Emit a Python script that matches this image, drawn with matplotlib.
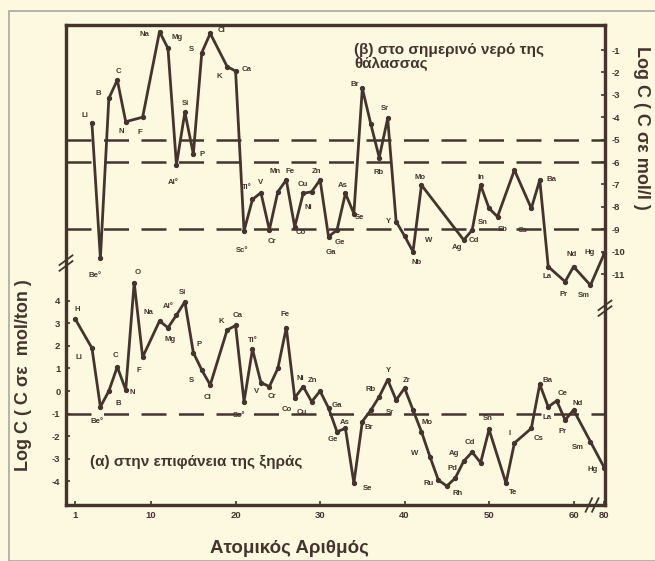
import matplotlib
matplotlib.use("Agg")
import matplotlib.pyplot as plt
from matplotlib.patches import Rectangle

plt.rcParams['font.family'] = ['Liberation Sans', 'DejaVu Sans']

INK = '#45342d'
PAPER = '#fcf9e0'

# atomic number 80 (Hg) is drawn after the axis break, at this x position
HG_POS = 63.65

# (β) sea water, Log C (C in mol/l)
sea_el = ['Li', 'Be', 'B', 'C', 'N', 'F', 'Na', 'Mg', 'Al', 'Si', 'P', 'S', 'Cl', 'K', 'Ca',
          'Sc', 'Ti', 'V', 'Cr', 'Mn', 'Fe', 'Co', 'Ni', 'Cu', 'Zn', 'Ga', 'Ge', 'As', 'Se',
          'Br', 'Kr', 'Rb', 'Sr', 'Y', 'Zr', 'Nb', 'Mo', 'Ag', 'Cd', 'In', 'Sn', 'Sb', 'I',
          'Cs', 'Ba', 'La', 'Pr', 'Nd', 'Sm', 'Hg']
sea_z = [3, 4, 5, 6, 7, 9, 11, 12, 13, 14, 15, 16, 17, 19, 20,
         21, 22, 23, 24, 25, 26, 27, 28, 29, 30, 31, 32, 33, 34,
         35, 36, 37, 38, 39, 40, 41, 42, 47, 48, 49, 50, 51, 53,
         55, 56, 57, 59, 60, 62, 80]
sea_logc = [-4.27, -10.3, -3.16, -2.34, -4.2, -4.0, -0.18, -0.93, -6.13, -3.78, -5.64, -1.12, -0.26, -1.74, -1.94,
            -9.08, -7.67, -7.37, -9.03, -7.33, -6.8, -8.9, -7.4, -7.33, -6.8, -9.33, -9.04, -7.4, -8.3,
            -2.71, -4.3, -5.8, -4.05, -8.66, -9.3, -10.0, -7.03, -9.48, -9.04, -7.03, -8.07, -8.44, -6.36,
            -8.07, -6.8, -10.67, -11.34, -10.67, -11.5, -10.07]

# (α) land surface, Log C (C in mol/ton)
land_el = ['H', 'Li', 'Be', 'B', 'C', 'N', 'O', 'F', 'Na', 'Mg', 'Al', 'Si', 'P', 'S', 'Cl',
           'K', 'Ca', 'Sc', 'Ti', 'V', 'Cr', 'Mn', 'Fe', 'Co', 'Ni', 'Cu', 'Zn', 'Ga', 'Ge',
           'As', 'Se', 'Br', 'Kr', 'Rb', 'Sr', 'Y', 'Zr', 'Nb', 'Mo', 'Tc', 'Ru', 'Rh', 'Pd',
           'Ag', 'Cd', 'In', 'Sn', 'Te', 'I', 'Cs', 'Ba', 'La', 'Ce', 'Pr', 'Nd', 'Sm', 'Hg']
land_z = [1, 3, 4, 5, 6, 7, 8, 9, 11, 12, 13, 14, 15, 16, 17,
          19, 20, 21, 22, 23, 24, 25, 26, 27, 28, 29, 30, 31, 32,
          33, 34, 35, 36, 37, 38, 39, 40, 41, 42, 43, 44, 45, 46,
          47, 48, 49, 50, 52, 53, 55, 56, 57, 58, 59, 60, 62, 80]
land_logc = [3.2, 1.9, -0.7, 0.0, 1.07, 0.05, 4.8, 1.5, 3.1, 2.8, 3.36, 3.95, 1.7, 0.93, 0.27,
             2.7, 2.9, -0.47, 1.85, 0.37, 0.2, 1.0, 2.8, -0.3, 0.2, -0.47, 0.0, -0.75, -1.8,
             -1.65, -4.07, -1.35, -0.85, -0.25, 0.5, -0.4, 0.13, -0.84, -1.8, -2.9, -3.94, -4.2, -3.85,
             -3.1, -2.7, -3.17, -1.7, -4.07, -2.3, -1.65, 0.3, -0.7, -0.43, -1.28, -0.84, -2.24, -3.4]

sea_dashes = [-5, -6, -9]
land_dashes = [-1]

x_ticks = [1, 10, 20, 30, 40, 50, 60, 80]
land_ticks = [4, 3, 2, 1, 0, -1, -2, -3, -4]
sea_ticks = [-1, -2, -3, -4, -5, -6, -7, -8, -9, -10, -11]

# label text and offset (pixels) from the point it belongs to
sea_labels = [('Li', 'Li', -7, 8), ('Be', 'Be°', -5, -17), ('B', 'B', -11, 5), ('C', 'C', 1, 9),
              ('N', 'N', -4, -10), ('F', 'F', -3, -15), ('Na', 'Na', -15, -3), ('Mg', 'Mg', 9, 11),
              ('Al', 'Al°', -3, -18), ('Si', 'Si', 1, 9), ('P', 'P', 9, -1), ('S', 'S', -10, 3),
              ('Cl', 'Cl', 11, 3), ('K', 'K', -8, -10), ('Ca', 'Ca', 11, 2), ('Sc', 'Sc°', -2, -19),
              ('Ti', 'Ti°', -6, 12), ('V', 'V', 0, 10), ('Cr', 'Cr', 3, -12), ('Mn', 'Mn', -3, 20),
              ('Fe', 'Fe', 4, 8), ('Co', 'Co', 6, -6), ('Ni', 'Ni', 5, -14), ('Cu', 'Cu', -9, 7),
              ('Zn', 'Zn', -4, 8), ('Ga', 'Ga', 2, -16), ('Ge', 'Ge', 3, -12), ('As', 'As', -3, 8),
              ('Se', 'Se', 6, -4), ('Br', 'Br', -8, 4), ('Rb', 'Rb', -1, -15), ('Sr', 'Sr', -3, 10),
              ('Y', 'Y', -8, 0), ('Nb', 'Nb', 4, -11), ('Mo', 'Mo', -1, 8), ('Mo', 'W', 7, -55),
              ('Ag', 'Ag', -7, -8), ('Cd', 'Cd', 2, -10), ('In', 'In', 0, 8), ('Sn', 'Sn', -6, -14),
              ('Sb', 'Sb', 5, -13), ('Cs', 'Cs', -9, -22), ('Ba', 'Ba', 12, 0), ('La', 'La', -1, -10),
              ('Pr', 'Pr', -2, -13), ('Nd', 'Nd', -2, 12), ('Sm', 'Sm', -7, -10), ('Hg', 'Hg', -15, 1)]
land_labels = [('H', 'H', 2, 9), ('Li', 'Li', -13, -9), ('Be', 'Be°', -3, -15), ('B', 'B', 9, -12),
               ('C', 'C', -2, 11), ('N', 'N', 7, -3), ('O', 'O', 3, 10), ('F', 'F', -4, -13),
               ('Na', 'Na', -11, 8), ('Mg', 'Mg', 2, -12), ('Al', 'Al°', -8, 9), ('Si', 'Si', -2, 9),
               ('P', 'P', 6, 8), ('S', 'S', -10, -10), ('Cl', 'Cl', -3, -13), ('K', 'K', -6, 9),
               ('Ca', 'Ca', 2, 10), ('Sc', 'Sc°', -5, -14), ('Ti', 'Ti°', 0, 9), ('V', 'V', -4, -9),
               ('Cr', 'Cr', 3, -10), ('Fe', 'Fe', -1, 13), ('Co', 'Co', -8, -12), ('Ni', 'Ni', -3, 8),
               ('Cu', 'Cu', -10, -11), ('Zn', 'Zn', -8, 11), ('Ga', 'Ga', 8, 3), ('Ge', 'Ge', -4, -8),
               ('As', 'As', -1, 6), ('Se', 'Se', 14, -5), ('Br', 'Br', 6, -6), ('Rb', 'Rb', -9, 7),
               ('Sr', 'Sr', 2, -33), ('Y', 'Y', -8, 30), ('Zr', 'Zr', 2, 8), ('Mo', 'Mo', 6, 9),
               ('Tc', 'W', -15, 3), ('Ru', 'Ru', -10, -3), ('Rh', 'Rh', 11, -7), ('Pd', 'Pd', -3, 10),
               ('Ag', 'Ag', -10, 8), ('Cd', 'Cd', -2, 10), ('Sn', 'Sn', -1, 11), ('Te', 'Te', 7, -9),
               ('I', 'I', -5, 10), ('Cs', 'Cs', 7, -10), ('Ba', 'Ba', 8, 4), ('La', 'La', -1, -11),
               ('Ce', 'Ce', 6, 7), ('Pr', 'Pr', -3, -12), ('Nd', 'Nd', 4, 7), ('Sm', 'Sm', -13, -6),
               ('Hg', 'Hg', -12, -2)]


def xpos(z):
    return HG_POS if z == 80 else z


fig = plt.figure(figsize=(6.55, 5.61), dpi=100, facecolor=PAPER)
fig.patches.append(Rectangle((9 / 655, 0), 1, 1 - 11 / 561, transform=fig.transFigure,
                             fill=False, edgecolor='#a8a8a0', linewidth=1.2))

ax = fig.add_axes([66 / 655, 1 - 505 / 561, 539 / 655, 480 / 561])
ax.set_facecolor(PAPER)
ax.set_xlim(-0.07, 63.72)
ax.set_ylim(-5.04, 16.19)
ax2 = ax.twinx()
ax2.set_ylim(-21.31, 0.116)

for a in (ax, ax2):
    for sp in a.spines.values():
        sp.set_color(INK)
        sp.set_linewidth(2.3)

dash = (0, (10, 5))
for v in land_dashes:
    ax.axhline(v, color=INK, lw=1.8, linestyle=dash)
for v in sea_dashes:
    ax2.axhline(v, color=INK, lw=1.8, linestyle=dash)

land_x = [xpos(z) for z in land_z]
sea_x = [xpos(z) for z in sea_z]
ax.plot(land_x, land_logc, color=INK, lw=2.0, marker='o', ms=2.8, clip_on=False, zorder=3)
ax2.plot(sea_x, sea_logc, color=INK, lw=2.0, marker='o', ms=2.8, clip_on=False, zorder=3)

lab_kw = dict(textcoords='offset pixels', ha='center', va='center', fontsize=5.6,
              fontweight='bold', color=INK, annotation_clip=False)
for key, txt, dx, dy in land_labels:
    i = land_el.index(key)
    ax.annotate(txt, (land_x[i], land_logc[i]), xytext=(dx, dy), **lab_kw)
for key, txt, dx, dy in sea_labels:
    i = sea_el.index(key)
    ax2.annotate(txt, (sea_x[i], sea_logc[i]), xytext=(dx, dy), **lab_kw)

tick_kw = dict(direction='in', length=3, width=1.2, color=INK, labelsize=6.8, labelcolor=INK)
ax.set_xticks([xpos(z) for z in x_ticks])
ax.set_xticklabels([str(z) for z in x_ticks], fontweight='bold')
ax.set_yticks(land_ticks)
ax.set_yticklabels([str(v) for v in land_ticks], fontweight='bold')
ax.tick_params(axis='both', pad=4, **tick_kw)
ax2.set_yticks(sea_ticks)
ax2.set_yticklabels([str(v) for v in sea_ticks], fontweight='bold')
ax2.tick_params(axis='y', pad=5, **tick_kw)

ax.set_xlabel('Ατομικός Αριθμός', fontsize=13.5, fontweight='bold', color=INK)
ax.xaxis.set_label_coords(0.415, -0.072)
ax.set_ylabel('Log C ( C σε  mol/ton )', fontsize=13, fontweight='bold', color=INK)
ax.yaxis.set_label_coords(-0.064, 0.27)
ax2.set_ylabel('Log C ( C σε mol/l )', fontsize=13, fontweight='bold', color=INK,
               rotation=270, va='bottom')
ax2.yaxis.set_label_coords(1.052, 0.785)

ax.text(0.044, 0.09, '(α) στην επιφάνεια της ξηράς', transform=ax.transAxes,
        fontsize=11, fontweight='bold', color=INK, ha='left', va='center')
ax.text(0.535, 0.962, '(β) στο σημερινό νερό της\nθάλασσας', transform=ax.transAxes,
        fontsize=11, fontweight='bold', color=INK, ha='left', va='top', linespacing=0.95)

# axis break marks
def brk(x, y, vertical):
    for s in (-0.006, 0.006):
        if vertical:
            ax.plot([x - 0.012, x + 0.012], [y + s - 0.01, y + s + 0.01], transform=ax.transAxes,
                    color=INK, lw=1.3, clip_on=False, zorder=5)
        else:
            ax.plot([x + s - 0.006, x + s + 0.006], [y - 0.014, y + 0.014], transform=ax.transAxes,
                    color=INK, lw=1.3, clip_on=False, zorder=5)

brk(0.0, 0.504, True)
brk(1.0, 0.41, True)
brk(0.976, 0.0, False)

fig.savefig('out.png', dpi=100, facecolor=PAPER)
